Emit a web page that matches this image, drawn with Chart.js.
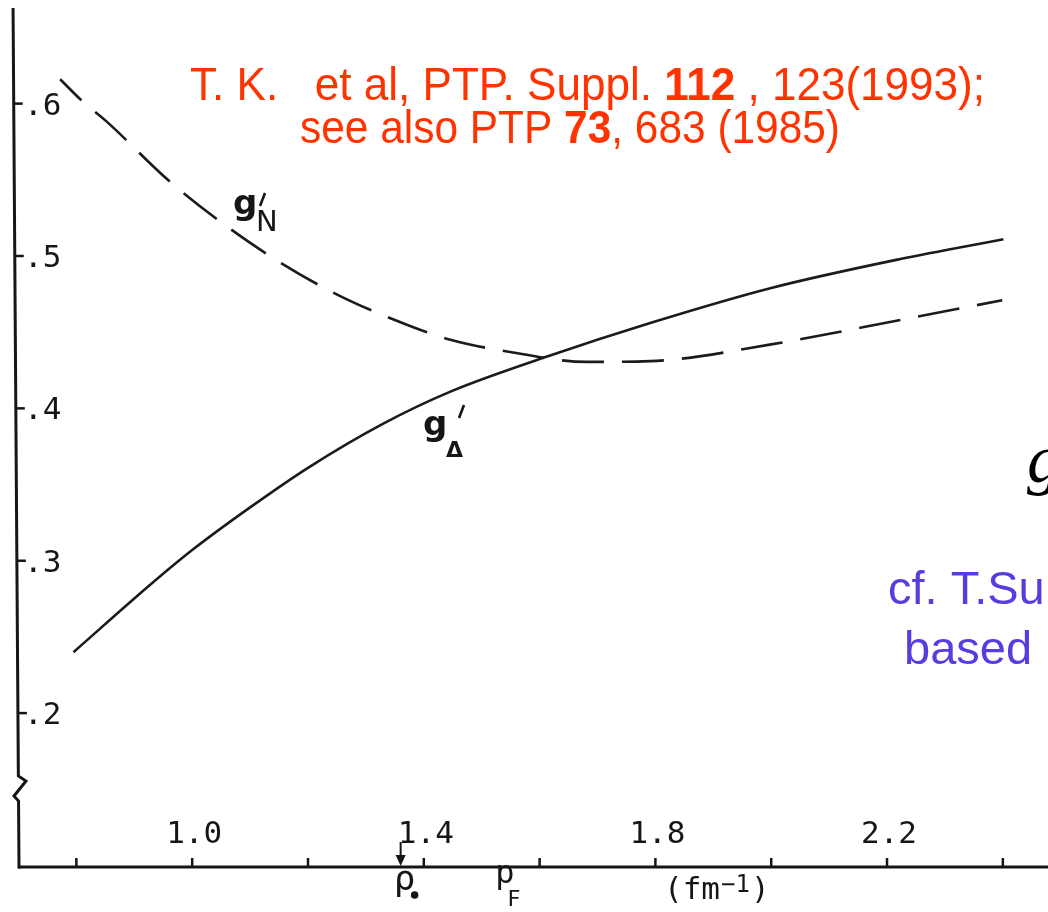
<!DOCTYPE html>
<html>
<head>
<meta charset="utf-8">
<script src="https://cdn.jsdelivr.net/npm/chart.js@4.4.1/dist/chart.umd.min.js"></script>
<style>
  html, body { margin: 0; padding: 0; background: #fff; }
  #wrap { width: 1048px; height: 912px; }
</style>
</head>
<body>
<div id="wrap"><canvas id="grafic" width="1048" height="912"></canvas></div>
<script>
// k (fm^-1) and Landau-Migdal parameters
const kDelta = [0.795, 0.933, 1.0, 1.1, 1.2, 1.33, 1.446, 1.613, 1.791, 2.0, 2.223, 2.401];
const gDelta = [0.240, 0.286, 0.307, 0.335, 0.361, 0.390, 0.411, 0.434, 0.456, 0.479, 0.498, 0.511];
const kN = [0.772, 0.812, 0.85, 0.967, 1.13, 1.2435, 1.35, 1.446, 1.549, 1.682, 1.791, 2.0, 2.223, 2.399];
const gN = [0.616, 0.601, 0.589, 0.547, 0.501, 0.476, 0.458, 0.445, 0.437, 0.4305, 0.431, 0.442, 0.458, 0.471];

const xTicks = [0.8, 1.0, 1.2, 1.4, 1.6, 1.8, 2.0, 2.2, 2.4];
const xLabelValues = [1.0, 1.4, 1.8, 2.2];
const xLabels = ['1.0', '1.4', '1.8', '2.2'];
const yTicks = [0.2, 0.3, 0.4, 0.5, 0.6];
const yLabels = ['.2', '.3', '.4', '.5', '.6'];

const rho0K = 1.36;   // arrow marking rho_0
const pFK = 1.545;    // p_F label position

const MONO = '"DejaVu Sans Mono", monospace';

// draws a line of mixed normal/bold text squeezed to a given width
function textRic(ctx, parts, left, baseline, width, size, color) {
  let total = 0;
  parts.forEach(p => {
    ctx.font = (p.b ? 'bold ' : '') + size + 'px "Liberation Sans", Arial, sans-serif';
    total += ctx.measureText(p.t).width;
  });
  ctx.save();
  ctx.translate(left, baseline);
  ctx.scale(width / total, 1);
  ctx.fillStyle = color;
  ctx.textBaseline = 'alphabetic';
  ctx.textAlign = 'left';
  let x = 0;
  parts.forEach(p => {
    ctx.font = (p.b ? 'bold ' : '') + size + 'px "Liberation Sans", Arial, sans-serif';
    ctx.fillText(p.t, x, 0);
    x += ctx.measureText(p.t).width;
  });
  ctx.restore();
}

function prima(ctx, x, y) {
  ctx.beginPath();
  ctx.moveTo(x + 3, y - 7);
  ctx.lineTo(x - 2, y + 6);
  ctx.stroke();
}

const eixos = {
  id: 'eixos',
  afterDraw(chart) {
    const ctx = chart.ctx;
    const sx = chart.scales.x, sy = chart.scales.y;
    const base = chart.chartArea.bottom;
    // the scanned y axis leans a little to the right going down
    const axisX = y => 13 + 6 * (y / base);

    ctx.save();
    ctx.strokeStyle = '#161616';
    ctx.fillStyle = '#161616';
    ctx.lineCap = 'butt';

    // y axis with break mark
    ctx.lineWidth = 3;
    ctx.beginPath();
    ctx.moveTo(axisX(8), 8);
    ctx.lineTo(axisX(776), 776);
    ctx.lineTo(26, 781);
    ctx.lineTo(14, 796);
    ctx.lineTo(axisX(801), 801);
    ctx.lineTo(axisX(base), base + 1.5);
    ctx.stroke();

    // x axis
    ctx.beginPath();
    ctx.moveTo(axisX(base) - 1, base);
    ctx.lineTo(chart.width, base);
    ctx.stroke();

    // ticks
    ctx.lineWidth = 2.5;
    xTicks.forEach(v => {
      const px = sx.getPixelForValue(v);
      ctx.beginPath();
      ctx.moveTo(px, base);
      ctx.lineTo(px, base - 9);
      ctx.stroke();
    });
    yTicks.forEach(v => {
      const py = sy.getPixelForValue(v);
      ctx.beginPath();
      ctx.moveTo(axisX(py), py);
      ctx.lineTo(axisX(py) + 9, py);
      ctx.stroke();
    });

    // tick labels
    ctx.font = '31px ' + MONO;
    ctx.textAlign = 'center';
    ctx.textBaseline = 'alphabetic';
    xLabelValues.forEach((v, i) => {
      ctx.fillText(xLabels[i], sx.getPixelForValue(v) + 2, 843);
    });
    ctx.textAlign = 'left';
    ctx.textBaseline = 'middle';
    yTicks.forEach((v, i) => {
      ctx.fillText(yLabels[i], 24, sy.getPixelForValue(v) + 3);
    });

    // rho_0 arrow and symbols under the axis
    const rx = sx.getPixelForValue(rho0K);
    ctx.lineWidth = 2;
    ctx.beginPath();
    ctx.moveTo(rx, 842);
    ctx.lineTo(rx, 858);
    ctx.stroke();
    ctx.beginPath();
    ctx.moveTo(rx - 5, 855);
    ctx.lineTo(rx + 5, 855);
    ctx.lineTo(rx, 866);
    ctx.closePath();
    ctx.fill();

    ctx.textBaseline = 'alphabetic';
    ctx.textAlign = 'center';
    ctx.font = '36px ' + MONO;
    ctx.fillText('\u03c1', rx + 4, 890);
    ctx.beginPath();
    ctx.arc(rx + 14, 895, 3.8, 0, Math.PI * 2);
    ctx.fill();

    const fx = sx.getPixelForValue(pFK);
    ctx.font = '32px ' + MONO;
    ctx.fillText('p', fx - 3, 883);
    ctx.font = '22px ' + MONO;
    ctx.fillText('F', fx + 6, 906);

    ctx.textAlign = 'left';
    ctx.font = '31px ' + MONO;
    ctx.fillText('(fm', 664, 899);
    let w = ctx.measureText('(fm').width;
    ctx.font = '24px ' + MONO;
    ctx.fillText('\u22121', 664 + w + 1, 892);
    let w2 = ctx.measureText('\u22121').width;
    ctx.font = '31px ' + MONO;
    ctx.fillText(')', 664 + w + w2 + 2, 899);

    // curve labels
    ctx.font = 'bold 34px "DejaVu Sans", sans-serif';
    ctx.fillText('g', 233, 214);
    ctx.fillText('g', 423, 435);
    ctx.lineWidth = 2.6;
    prima(ctx, 262, 200);
    prima(ctx, 461, 412);
    ctx.font = '29px "DejaVu Sans", sans-serif';
    ctx.fillText('N', 256, 231);
    ctx.font = 'bold 22px "DejaVu Sans", sans-serif';
    ctx.fillText('\u0394', 446, 457);

    // citation notes
    textRic(ctx, [
      { t: 'T. K.   et al, PTP. Suppl. ' },
      { t: '112', b: true },
      { t: ' , 123(1993);' }
    ], 190, 100, 795, 46, '#ff3300');
    textRic(ctx, [
      { t: 'see also PTP ' },
      { t: '73', b: true },
      { t: ', 683 (1985)' }
    ], 300, 143, 540, 46, '#ff3300');

    ctx.fillStyle = '#5a3be0';
    ctx.font = '47px "Liberation Sans", Arial, sans-serif';
    ctx.fillText('cf. T.Su', 888, 604);
    ctx.fillText('based', 904, 664);

    ctx.fillStyle = '#000';
    ctx.font = 'italic 68px "Liberation Serif", serif';
    ctx.fillText('g', 1027, 482);

    ctx.restore();
  }
};

const punts = (xs, ys) => xs.map((x, i) => ({ x: x, y: ys[i] }));

new Chart(document.getElementById('grafic'), {
  type: 'scatter',
  data: {
    datasets: [
      {
        label: "g'N",
        data: punts(kN, gN),
        showLine: true,
        borderColor: '#1b1b1b',
        borderWidth: 2.6,
        borderDash: [42, 18],
        borderDashOffset: 12,
        pointRadius: 0,
        cubicInterpolationMode: 'monotone',
        fill: false
      },
      {
        label: "g'\u0394",
        data: punts(kDelta, gDelta),
        showLine: true,
        borderColor: '#1b1b1b',
        borderWidth: 2.6,
        pointRadius: 0,
        cubicInterpolationMode: 'monotone',
        fill: false
      }
    ]
  },
  options: {
    responsive: false,
    animation: false,
    devicePixelRatio: 1,
    events: [],
    layout: { padding: { left: 15, right: 0, top: 0, bottom: 45 } },
    plugins: { legend: { display: false }, tooltip: { enabled: false } },
    scales: {
      x: { type: 'linear', min: 0.694, max: 2.478, display: false },
      y: { type: 'linear', min: 0.099, max: 0.668, display: false }
    }
  },
  plugins: [eixos]
});
</script>
</body>
</html>
